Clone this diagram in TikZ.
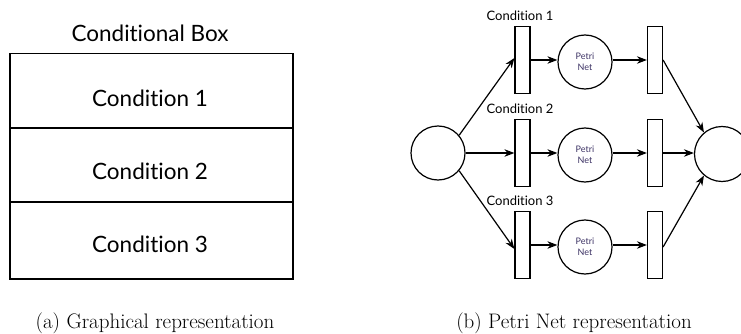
\documentclass[tikz,border=0pt]{standalone}
\usepackage{fontspec}
\setsansfont[Ligatures={NoCommon,NoRequired,NoContextual}]{Lato}
\usetikzlibrary{arrows.meta}
\definecolor{pntext}{RGB}{60,50,100}
\begin{document}
\begin{tikzpicture}[x=1pt,y=-1pt,
  line width=1.2pt,
  trans/.style={draw,minimum width=15pt,minimum height=67pt,inner sep=0pt},
  place/.style={draw,circle,minimum size=54pt,inner sep=0pt},
  arr/.style={-{Stealth[length=10pt,width=7.5pt]}},
  lbl/.style={font=\sffamily\fontsize{13}{14}\selectfont,inner sep=0pt},
  big/.style={font=\sffamily\fontsize{22.5}{25}\selectfont,inner sep=0pt},
  captext/.style={font=\rmfamily\fontsize{21}{24}\selectfont,inner sep=0pt}]
\useasboundingbox (0,0) rectangle (741,334);
% left
\node[big] (title) at (150,33) {Conditional Box};
\node[draw,minimum width=283pt,minimum height=74.5pt,inner sep=0pt] (r1) at (151.5,90.5) {};
\node[draw,minimum width=283pt,minimum height=74pt,inner sep=0pt] (r2) at (151.5,165) {};
\node[draw,minimum width=283pt,minimum height=77pt,inner sep=0pt] (r3) at (151.5,240.5) {};
\node[big] (c1) at (150,98) {Condition 1};
\node[big] (c2) at (150,171) {Condition 2};
\node[big] (c3) at (150,244) {Condition 3};
\node[captext] (capa) at (155,323) {(a) Graphical representation};
% right
\node[place] (start) at (438,153) {};
\node[place,minimum size=55pt] (end) at (722,154) {};
\foreach \i/\y in {1/60,2/153,3/245}{
  \node[trans] (ta\i) at (522.5,\y) {};
  \node[place,font=\sffamily\fontsize{9}{11}\selectfont,text=pntext,align=center] (pn\i) at (585,\y+2) {Petri\\Net};
  \node[trans] (tb\i) at (655,\y) {};
  \node[lbl,anchor=south] (l\i) at (520,\y-39) {Condition \i};
  \draw[arr] (ta\i.east) -- (ta\i.east-|pn\i.west);
  \draw[arr] (tb\i.west-|pn\i.east) -- (tb\i.west);
}
\draw[arr] (start.40) -- ([yshift=2pt]ta1.west);
\draw[arr] (start.east) -- (ta2.west);
\draw[arr] (start.-40) -- ([yshift=-4pt]ta3.west);
\draw[arr] (tb1.east) -- (end.130);
\draw[arr] (tb2.east) -- (tb2.east-|end.west);
\draw[arr] ([yshift=-2pt]tb3.east) -- (end.-130);
\node[captext] (capb) at (574,323) {(b) Petri Net representation};
\end{tikzpicture}
\end{document}
